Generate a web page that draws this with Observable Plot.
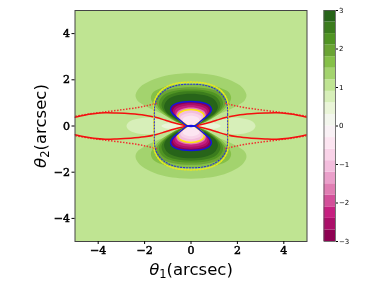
<!DOCTYPE html>
<html>
<head>
<meta charset="utf-8">
<script src="https://cdn.jsdelivr.net/npm/d3@7"></script>
<script src="https://cdn.jsdelivr.net/npm/@observablehq/plot@0.6"></script>
<style>
html,body{margin:0;padding:0;background:#fff}
#c{position:relative;width:382px;height:286px;overflow:hidden;filter:blur(0.35px)}
#c svg{position:absolute;left:0;top:0;background:transparent}
</style>
</head>
<body>
<div id="c"></div>
<script>
// colour bands, low to high, one per 0.3 step from -3 to 3
const barLevels = [-3,-2.7,-2.4,-2.1,-1.8,-1.5,-1.2,-0.9,-0.6,-0.3,0,0.3,0.6,0.9,1.2,1.5,1.8,2.1,2.4,2.7,3];
const barColors = ["#8e0152","#ab0f69","#c62080","#d3509a","#e07eb3","#ea9fca","#f3bddd","#f9d3e8","#fce5f1","#f9f1f5","#f3f6ed","#eaf5d8","#d7efb9","#bfe492","#a3d36e","#85c048","#6aa434","#509423","#3b7c1d","#276419"];
const xTicks = [-4,-2,0,2,4];
const yTicks = [-4,-2,0,2,4];
const barTicks = [-3,-2,-1,0,1,2,3];

// right half of the upper lobes: [theta1, theta2], pinch to top
const band14 = [[0.16,0.02],[0.7,0.32],[1.4,0.6],[2.0,0.89],[2.32,1.12],[2.39,1.35],[2.2,1.68],[1.75,1.96],[1.1,2.18],[0.5,2.26],[0,2.28]];
const band15 = [[0.16,0.02],[0.7,0.22],[1.3,0.6],[1.65,1.0],[1.73,1.22],[1.62,1.47],[1.25,1.66],[0.7,1.78],[0,1.82]];
const band16 = [[0.16,0.02],[0.65,0.2],[1.15,0.55],[1.45,0.88],[1.5,1.1],[1.32,1.4],[0.82,1.6],[0,1.68]];
const band17 = [[0.16,0.02],[0.6,0.2],[1.05,0.5],[1.32,0.78],[1.38,1.02],[1.2,1.32],[0.75,1.51],[0,1.58]];
const band18 = [[0.16,0.02],[0.55,0.2],[0.95,0.46],[1.2,0.7],[1.27,0.95],[1.1,1.25],[0.68,1.43],[0,1.5]];
const band19 = [[0.16,0.02],[0.5,0.2],[0.85,0.42],[1.08,0.62],[1.16,0.85],[1.0,1.15],[0.6,1.33],[0,1.4]];
const blueLobe = [[0.17,0.01],[0.33,0.13],[0.58,0.34],[0.8,0.54],[0.88,0.7],[0.82,0.86],[0.62,0.98],[0.33,1.04],[0,1.06]];
const pink1 = [[0.16,0.01],[0.31,0.13],[0.55,0.33],[0.72,0.51],[0.78,0.65],[0.72,0.79],[0.54,0.9],[0.28,0.96],[0,0.98]];
const pink2 = [[0.16,0.01],[0.3,0.12],[0.52,0.3],[0.66,0.45],[0.71,0.58],[0.65,0.72],[0.48,0.82],[0.25,0.88],[0,0.9]];
const pink3 = [[0.15,0.01],[0.29,0.12],[0.48,0.26],[0.6,0.38],[0.64,0.49],[0.58,0.63],[0.42,0.72],[0.22,0.78],[0,0.8]];
const yellowLobe = [[0.14,0.01],[0.28,0.11],[0.42,0.2],[0.54,0.31],[0.57,0.42],[0.51,0.55],[0.37,0.64],[0.19,0.69],[0,0.71]];
const pink4 = [[0.13,0.01],[0.25,0.1],[0.35,0.17],[0.43,0.26],[0.46,0.35],[0.41,0.44],[0.29,0.51],[0.15,0.55],[0,0.57]];
const pink5 = [[0.12,0.01],[0.21,0.08],[0.29,0.15],[0.34,0.22],[0.36,0.29],[0.32,0.35],[0.23,0.4],[0.11,0.43],[0,0.44]];

// pale strips along theta2 = 0, right half, upper side
const paleOuter = [[0.16,0],[0.6,0.11],[1.0,0.22],[1.45,0.33],[2.0,0.36],[2.45,0.28],[2.7,0.15],[2.78,0]];
const paleInner = [[0.28,0],[0.4,0.07],[0.75,0.12],[1.1,0.1],[1.28,0]];

// dotted ring curves, one quadrant
const blueRing = [[1.58,0],[1.58,0.5],[1.57,0.82],[1.5,1.1],[1.3,1.4],[1.0,1.62],[0.6,1.76],[0,1.81]];
const yellowRing = [[1.6,0],[1.6,0.5],[1.6,0.85],[1.55,1.15],[1.35,1.47],[1.05,1.7],[0.6,1.85],[0,1.9]];
// red curves, one quadrant
const redSolid = [[0.17,0],[0.4,0.05],[0.75,0.14],[1.1,0.25],[1.53,0.38],[2.0,0.47],[2.6,0.53],[3.2,0.56],[3.7,0.57],[4.2,0.53],[4.6,0.47],[5,0.38]];
const redDotted = [[1.47,0.98],[1.9,0.88],[2.3,0.8],[3.0,0.7],[3.8,0.6],[4.4,0.52],[5,0.42]];

const flip = (pts,sx,sy) => pts.map(([a,b]) => [a*sx,b*sy]);
const lobe = (pts,sy) => [...flip(pts,1,sy), ...flip(pts,-1,sy).reverse().slice(1)];
const ring = pts => [...pts, ...flip(pts,-1,1).reverse().slice(1), ...flip(pts,-1,-1).slice(1), ...flip(pts,1,-1).reverse().slice(1,-1)];
const xy = {x:d=>d[0], y:d=>d[1], clip:true};
const fillLobes = (pts,color) => [1,-1].map(s => Plot.line(lobe(pts,s),{...xy,fill:color,stroke:"none",curve:"catmull-rom-closed"}));
const fillStrip = (pts,color) => [Plot.line([...pts, ...flip(pts,1,-1).reverse().slice(1,-1)],{...xy,fill:color,stroke:"none",curve:"catmull-rom-closed"}),
  Plot.line([...flip(pts,-1,1), ...flip(pts,-1,-1).reverse().slice(1,-1)],{...xy,fill:color,stroke:"none",curve:"catmull-rom-closed"})];
const outline = (pts,color,width,dash) => Plot.line(pts,{...xy,stroke:color,strokeWidth:width,strokeDasharray:dash,curve:"catmull-rom",strokeLinecap:dash?"butt":"round"});
const outlineLobes = (pts,color,width) => [1,-1].map(s => Plot.line(lobe(pts,s),{...xy,stroke:color,strokeWidth:width,curve:"catmull-rom-closed"}));
const quadrants = [[1,1],[-1,1],[1,-1],[-1,-1]];

const serif = "'DejaVu Serif',serif";
const fmt = d => String(d).replace("-","−");
const main = Plot.plot({
  width:382,height:286,marginLeft:74.5,marginRight:75.5,marginTop:10,marginBottom:45,
  x:{domain:[-5,5]},y:{domain:[-5,5]},
  style:{background:"transparent"},
  marks:[
    Plot.frame({fill:barColors[13],stroke:"none"}),
    ...fillStrip(paleOuter,barColors[12]),
    ...fillStrip(paleInner,barColors[11]),
    ...fillLobes(band14,barColors[14]),
    ...fillLobes(band15,barColors[15]),
    ...fillLobes(band16,barColors[16]),
    ...fillLobes(band17,barColors[17]),
    ...fillLobes(band18,barColors[18]),
    ...fillLobes(band19,barColors[19]),
    ...fillLobes(blueLobe,barColors[0]),
    ...fillLobes(pink1,barColors[1]),
    ...fillLobes(pink2,barColors[2]),
    ...fillLobes(pink3,barColors[4]),
    ...fillLobes(yellowLobe,barColors[6]),
    ...fillLobes(pink4,barColors[7]),
    ...fillLobes(pink5,barColors[8]),
    ...quadrants.map(([a,b]) => outline(flip(redDotted,a,b),"#f03030",1.5,"1.5,1.5")),
    ...quadrants.map(([a,b]) => outline(flip(redSolid,a,b),"#f40f0f",1.5)),
    Plot.line(ring(yellowRing),{...xy,stroke:"#e8e820",strokeWidth:1.5,strokeDasharray:"1.5,1.5",curve:"catmull-rom-closed"}),
    Plot.line(ring(blueRing),{...xy,stroke:"#3030d0",strokeWidth:1.1,strokeDasharray:"1.2,1.8",curve:"catmull-rom-closed"}),
    ...outlineLobes(yellowLobe,"#fce80a",1.5),
    ...outlineLobes(blueLobe,"#1414e0",1.5),
    Plot.frame({stroke:"#444",strokeWidth:1}),
    Plot.axisX({ticks:xTicks,tickFormat:fmt,tickSize:3,tickPadding:2,fontSize:11,fontFamily:serif,label:"x1",labelAnchor:"center",labelArrow:"none",labelOffset:33}),
    Plot.axisY({ticks:yTicks,tickFormat:fmt,tickSize:3,tickPadding:2,fontSize:11,fontFamily:serif,label:"y1",labelAnchor:"center",labelArrow:"none",labelOffset:41})
  ]
});
d3.select(main).selectAll("g[aria-label='x-axis tick label'], g[aria-label='y-axis tick label']").attr("stroke","#000").attr("stroke-width",0.5);
d3.select(main).selectAll("g[aria-label='x-axis label'] text, g[aria-label='y-axis label'] text").each(function(){
  const n = this.textContent.trim()==="x1" ? 1 : 2;
  const t = d3.select(this).attr("font-size",16.5).attr("font-family","'DejaVu Sans',sans-serif").attr("font-weight","normal").attr("fill","#000");
  t.selectAll("*").remove(); t.text("");
  t.append("tspan").attr("font-style","italic").text("θ");
  t.append("tspan").attr("dy",3.5).attr("font-size",11.5).text(n);
  t.append("tspan").attr("dy",-3.5).text("(arcsec)");
});

const bands = barColors.map((c,i)=>({c,y1:barLevels[i],y2:barLevels[i+1]}));
const bar = Plot.plot({
  width:382,height:286,marginLeft:323.5,marginRight:47,marginTop:10,marginBottom:45,
  x:{domain:[0,1],axis:null},y:{domain:[-3,3]},
  style:{background:"transparent"},
  marks:[
    Plot.rect(bands,{x1:0,x2:1,y1:"y1",y2:"y2",fill:"c"}),
    Plot.frame({stroke:"#555",strokeWidth:0.8}),
    Plot.axisY({anchor:"right",ticks:barTicks,tickFormat:fmt,tickSize:2,tickPadding:1.5,fontSize:7,fontFamily:"'DejaVu Sans',sans-serif",label:null})
  ]
});
const c = document.getElementById("c");
c.append(main); c.append(bar);
</script>
</body>
</html>
